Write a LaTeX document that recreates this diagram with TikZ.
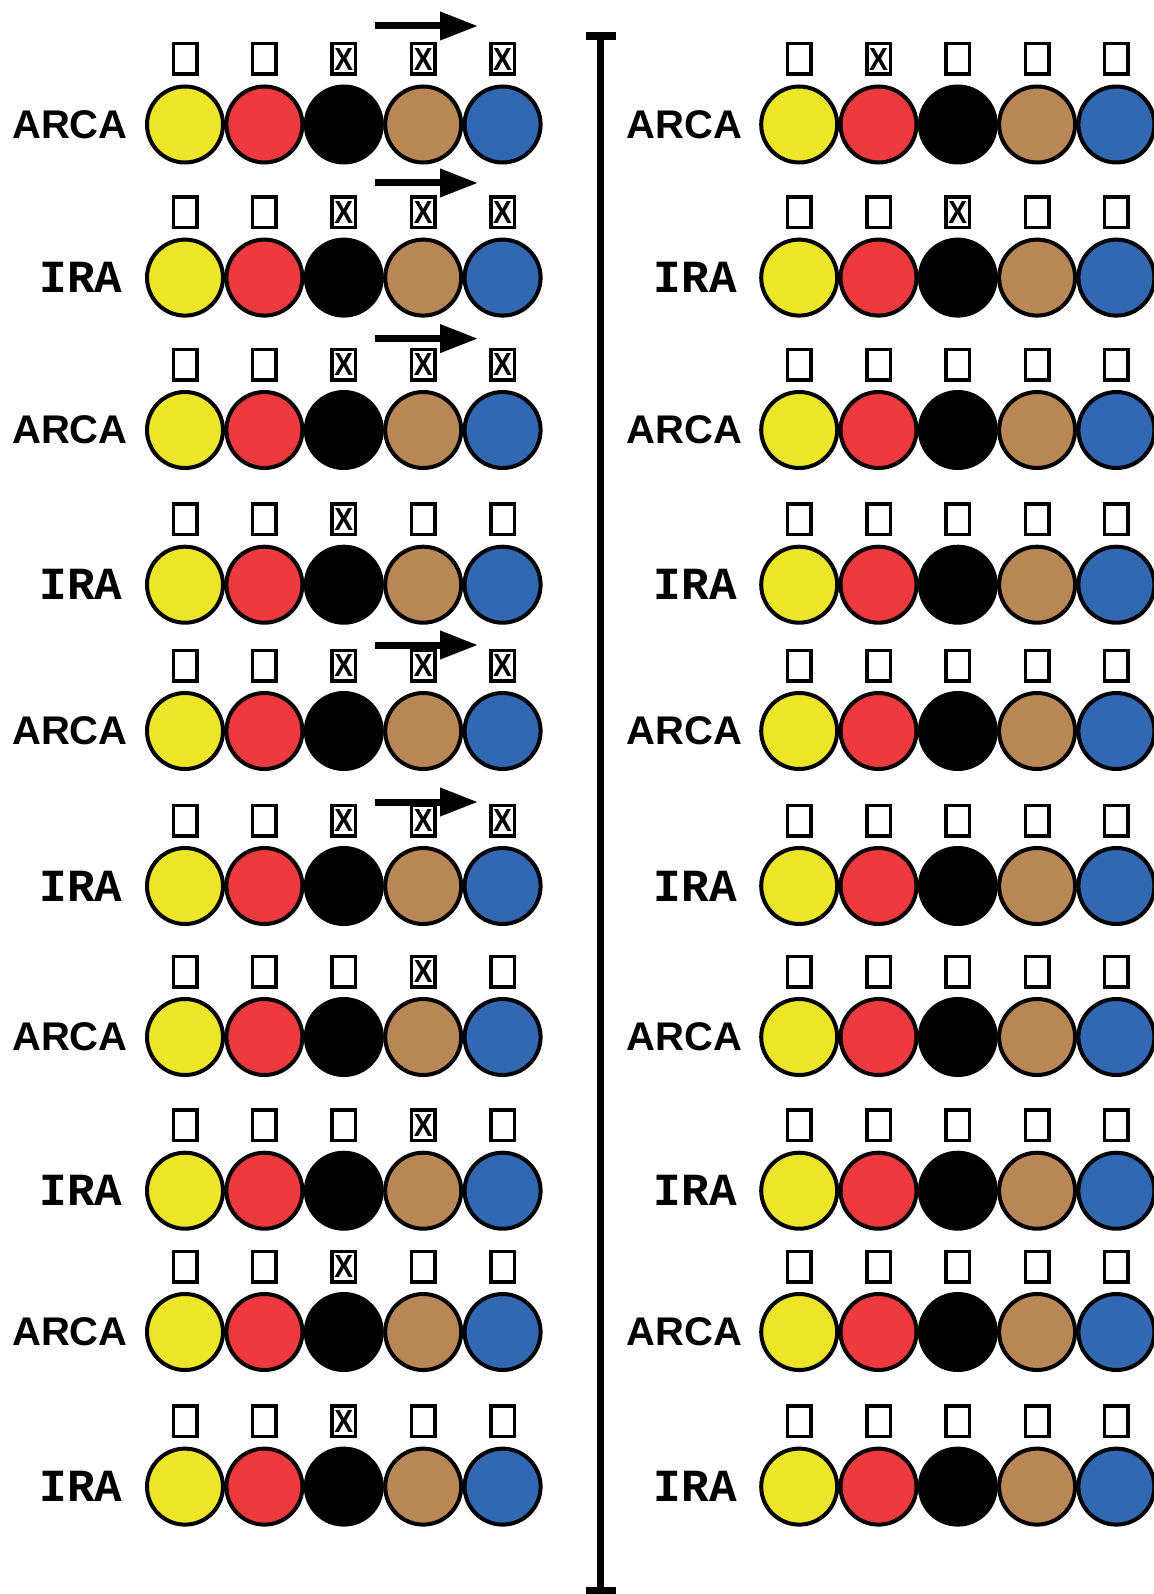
\documentclass[tikz,border=0pt]{standalone}
\usepackage{fontspec}
\setmainfont{Liberation Sans}
\newfontfamily\labsans{Liberation Sans}
\newfontfamily\labmono{Liberation Mono}
\usetikzlibrary{arrows.meta}
\definecolor{cyel}{RGB}{237,230,40}
\definecolor{cred}{RGB}{238,58,62}
\definecolor{cblk}{RGB}{0,0,0}
\definecolor{cbrn}{RGB}{185,135,85}
\definecolor{cblu}{RGB}{50,103,178}
\begin{document}
\begin{tikzpicture}[x=1pt,y=-1pt,
  disc/.style={circle,draw=black,line width=4pt,minimum size=76pt,inner sep=0pt},
  ebox/.style={rectangle,draw=black,line width=3.5pt,minimum width=23.5pt,minimum height=30.5pt,inner sep=0pt},
  xmk/.style={inner sep=0pt,font=\labsans\bfseries\fontsize{32}{32}\selectfont,xscale=0.88},
  labA/.style={inner sep=0pt,font=\labsans\bfseries\fontsize{40}{40}\selectfont,xshift=-115pt},
  labI/.style={inner sep=0pt,font=\labmono\bfseries\fontsize{46}{46}\selectfont,xshift=-104pt},
  arr/.style={line width=7pt,-{Triangle[length=38pt,width=27pt]}},
  barline/.style={line width=7.5pt},
  barend/.style={line width=8pt}]
\useasboundingbox (0,0) rectangle (1153,1594);
\fill[white] (0,0) rectangle (1153,1594);
% rows
\foreach \rw/\y/\kind/\txt in {1/124.5/A/ARCA, 2/277.6/I/IRA, 3/430/A/ARCA, 4/584.7/I/IRA, 5/731/A/ARCA, 6/886/I/IRA, 7/1037/A/ARCA, 8/1190.7/I/IRA, 9/1332/A/ARCA, 10/1486.6/I/IRA}{
  \node[lab\kind] (L\rw t) at (185,\y) {\txt};
  \node[lab\kind] (R\rw t) at (799.2,\y) {\txt};
  \foreach \col [count=\i] in {cyel,cred,cblk,cbrn,cblu}{
    \pgfmathsetmacro\cxl{185+79.4*(\i-1)}
    \pgfmathsetmacro\cxr{799.2+79.3*(\i-1)}
    \node[disc,fill=\col] (L\rw c\i) at (\cxl,\y) {};
    \node[disc,fill=\col] (R\rw c\i) at (\cxr,\y) {};
    \node[ebox] (L\rw b\i) at (\cxl,\y-65.5) {};
    \node[ebox] (R\rw b\i) at (\cxr,\y-65.5) {};
  }
}
% crossed boxes
\foreach \b in {L1b3,L1b4,L1b5,L2b3,L2b4,L2b5,L3b3,L3b4,L3b5,L4b3,L5b3,L5b4,L5b5,L6b3,L6b4,L6b5,L7b4,L8b4,L9b3,L10b3,R1b2,R2b3}{
  \node[xmk] at (\b) {X};
}
% arrows
\foreach \a/\ay in {1/26, 2/183, 3/338.6, 5/645, 6/802}{
  \coordinate (A\a s) at (375,\ay);
  \coordinate (A\a e) at (478,\ay);
  \draw[arr] (A\a s) -- (A\a e);
}
% vertical bar
\coordinate (bt) at (600.5,36);
\coordinate (bb) at (600.5,1591);
\coordinate (btl) at (585.5,36);
\coordinate (btr) at (615.5,36);
\coordinate (bbl) at (585.5,1591);
\coordinate (bbr) at (615.5,1591);
\draw[barline] (bt) -- (bb);
\draw[barend] (btl) -- (btr);
\draw[barend] (bbl) -- (bbr);
\end{tikzpicture}
\end{document}
